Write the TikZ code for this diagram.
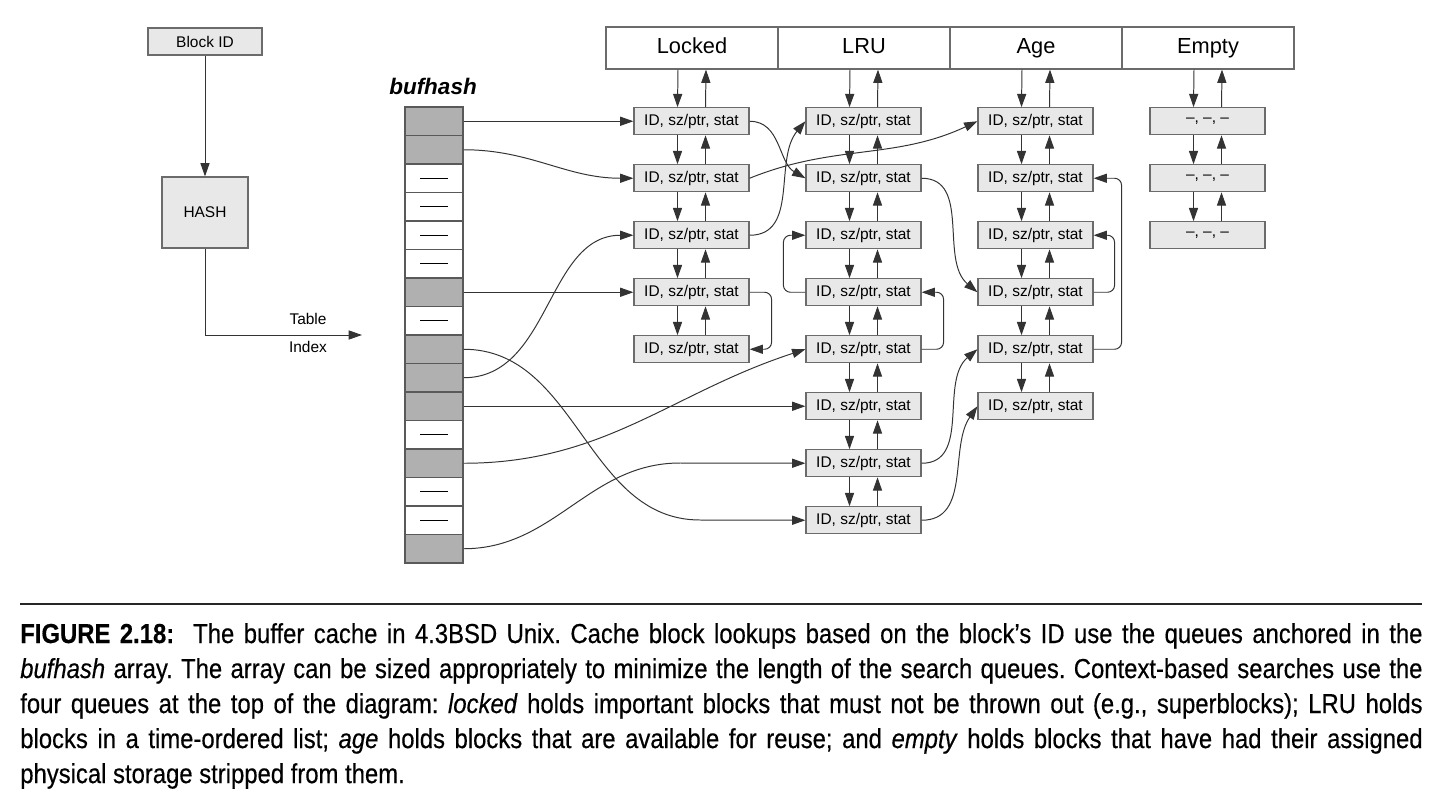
\documentclass[tikz,border=0pt]{standalone}
\usepackage{fontspec}
\setmainfont{Liberation Sans}
\newfontfamily\capfont[FakeStretch=0.87,FakeBold=0.4]{Liberation Sans}
\usetikzlibrary{arrows.meta}

\newcommand\qoff{0.35cm}

\begin{document}
\begin{tikzpicture}[
  x=0.025cm, y=-0.025cm,
  >={Triangle[length=9.5pt,width=6.5pt]},
  font=\fontsize{11}{13}\selectfont,
  line/.style={draw=black!80, line width=0.7pt},
  flow/.style={->, line},
  loopr/.style={->, line, rounded corners=5pt},
  rec/.style={draw=black!58, fill=black!9, line width=0.8pt, inner sep=0pt,
              minimum width=2.875cm, minimum height=0.675cm},
  hdr/.style={draw=black!58, fill=white, line width=0.8pt, inner sep=0pt,
              text height=11.5pt, text depth=3.5pt,
              minimum width=4.3cm, minimum height=1.05cm, font=\fontsize{15.5}{18}\selectfont},
  slot/.style={draw=black!65, line width=0.8pt, inner sep=0pt,
               minimum width=1.45cm, minimum height=0.7125cm},
  full/.style={slot, fill=black!31},
  free/.style={slot, fill=white, path picture={
      \draw[black, line width=0.7pt] ([xshift=-0.35cm]path picture bounding box.center)
        -- ([xshift=0.35cm]path picture bounding box.center);}}
]
  \useasboundingbox (0,0) rectangle (1440,802);

  % lookup by block id
  \node[rec, minimum width=2.85cm] (bid) at (205,41.5) {Block ID};
  \node[rec, minimum width=2.15cm, minimum height=1.775cm] (hash) at (205,212.5) {HASH};
  \coordinate (tix) at (362,335);
  \draw[flow] (bid) -- (hash);
  \draw[flow] (hash.south) |- (tix);
  \node (tbl) at (308,319) {Table};
  \node (idx) at (308,347) {Index};

  % bufhash array
  \node[font=\bfseries\itshape\fontsize{16}{19}\selectfont] (bhlbl) at (433,86) {bufhash};
  \foreach \k/\s in {1/full,2/full,3/free,4/free,5/free,6/free,7/full,8/free,
                     9/full,10/full,11/full,12/free,13/full,14/free,15/free,16/full}
    \node[\s] (h\k) at (434,{107+28.5*(\k-0.5)}) {};

  % queue headers (row 0) and queue entries
  \foreach \col/\x/\t in {lk/692/Locked, lru/864/LRU, age/1036/Age, emp/1208/Empty}
    \node[hdr] (\col0) at (\x,48) {\t};
  \foreach \col/\x/\n in {lk/691.5/5, lru/863.5/8, age/1035.5/6}
    \foreach \i in {1,...,\n}
      \node[rec] (\col\i) at (\x,{121.25+57*(\i-1)}) {ID, sz/ptr, stat};
  \foreach \i in {1,2,3}
    \node[rec] (emp\i) at (1207.5,{121.25+57*(\i-1)}) {--, --, --};

  % forward and backward links
  \foreach \col/\n in {lk/5, lru/8, age/6, emp/3}
    \foreach \i in {1,...,\n}{
      \pgfmathtruncatemacro\p{\i-1}
      \draw[flow] ([xshift=-\qoff]\col\p.south) -- ([xshift=-\qoff]\col\i.north);
      \draw[flow] ([xshift=\qoff]\col\i.north) -- ([xshift=\qoff]\col\p.south);
    }

  % hash chains
  \draw[flow] (h1.east) -- (lk1.west);
  \draw[flow] (h2.east) to[out=0,in=180] (lk2.west);
  \draw[flow] (h7.east) -- (lk4.west);
  \draw[flow] (h9.east) to[out=0,in=180] (700,520) -- (lru8.west);
  \draw[flow] (h10.east) to[out=0,in=180] (lk3.west);
  \draw[flow] (h11.east) -- (lru6.west);
  \draw[flow] (h13.east) to[out=0,in=198] (lru5.west);
  \draw[flow] (h16.east) to[out=0,in=180] (680,463) -- (lru7.west);

  % chains across queues
  \draw[flow] (lk1.east) to[out=0,in=150] (lru2.west);
  \draw[flow] (lk2.east) to[out=22,in=205] (age1.west);
  \draw[flow] (lk3.east) to[out=0,in=230] (lru1.west);
  \draw[flow] (lru2.east) to[out=0,in=140] (age4.west);
  \draw[flow] (lru7.east) to[out=0,in=220] (age5.west);
  \draw[flow] (lru8.east) to[out=0,in=235] (age6.west);

  % chains within a queue
  \draw[loopr] (lk4.east) -- ++(22,0) |- (lk5.east);
  \draw[loopr] (lru4.west) -- ++(-22,0) |- (lru3.west);
  \draw[loopr] (lru5.east) -- ++(22,0) |- (lru4.east);
  \draw[loopr] (age4.east) -- ++(21,0) |- (age3.east);
  \draw[loopr] (age5.east) -- ++(28,0) |- (age2.east);

  % caption
  \draw[black!85, line width=1.4pt] (20,604) -- (1422,604);
  \node[anchor=base west, inner sep=0pt, text width=35.05cm, align=justify,
        font=\capfont\frenchspacing\fontsize{19.5}{24.9}\selectfont] (cap) at (20,643)
    {\textbf{FIGURE 2.18:}\ \ The buffer cache in 4.3BSD Unix. Cache block lookups based on the block’s ID use the queues anchored in the\linebreak
     \textit{bufhash} array. The array can be sized appropriately to minimize the length of the search queues. Context-based searches use the\linebreak
     four queues at the top of the diagram: \textit{locked} holds important blocks that must not be thrown out (e.g., superblocks); LRU holds\linebreak
     blocks in a time-ordered list; \textit{age} holds blocks that are available for reuse; and \textit{empty} holds blocks that have had their assigned\linebreak
     physical storage stripped from them.};
\end{tikzpicture}
\end{document}
